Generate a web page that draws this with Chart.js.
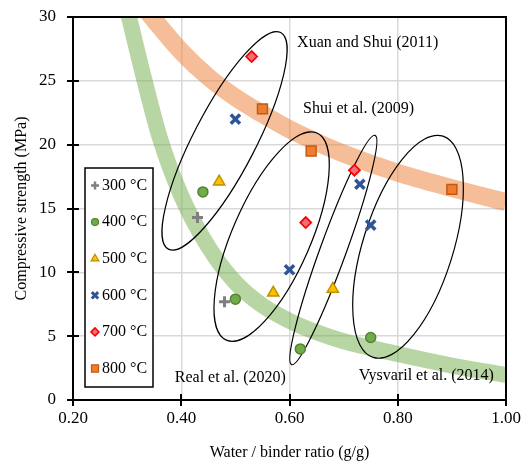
<!DOCTYPE html>
<html>
<head>
<meta charset="utf-8">
<script src="https://cdn.jsdelivr.net/npm/chart.js@4.4.1/dist/chart.umd.min.js"></script>
<style>
  html, body { margin: 0; padding: 0; background: #fff; }
  #wrap { width: 523px; height: 463px; }
</style>
</head>
<body>
<div id="wrap"><canvas id="chart" width="523" height="463"></canvas></div>
<script>
// series: water/binder ratio (g/g) and compressive strength (MPa)
const ratio300 = [0.43, 0.48];
const strength300 = [14.3, 7.7];
const ratio400 = [0.44, 0.50, 0.62, 0.75];
const strength400 = [16.3, 7.9, 4.0, 4.9];
const ratio500 = [0.47, 0.57, 0.68];
const strength500 = [17.1, 8.4, 8.7];
const ratio600 = [0.50, 0.60, 0.73, 0.75];
const strength600 = [22.0, 10.2, 16.9, 13.7];
const ratio700 = [0.53, 0.63, 0.72];
const strength700 = [26.9, 13.9, 18.0];
const ratio800 = [0.55, 0.64, 0.90];
const strength800 = [22.8, 19.5, 16.5];

// trend bands (literature curves)
const orangeRatio = [0.33, 0.40, 0.45, 0.50, 0.55, 0.60, 0.65, 0.70, 0.80, 0.90, 1.00];
const orangeStrength = [30.8, 27.3, 25.3, 23.7, 22.4, 21.2, 20.2, 19.3, 17.8, 16.6, 15.5];
const greenRatio = [0.295, 0.33, 0.36, 0.40, 0.45, 0.50, 0.55, 0.60, 0.65, 0.70, 0.80, 0.90, 1.00];
const greenStrength = [31.5, 25.4, 20.6, 16.0, 12.0, 9.2, 7.4, 6.2, 5.3, 4.6, 3.6, 2.7, 1.95];

const xTicks = [0.2, 0.4, 0.6, 0.8, 1.0];
const yTicks = [0, 5, 10, 15, 20, 25, 30];

const serif = "'Liberation Serif', 'Times New Roman', serif";
Chart.defaults.font.family = serif;
Chart.defaults.color = '#000';

function pts(xs, ys) {
    return xs.map((x, i) => ({ x: x, y: ys[i] }));
}

// marker look for each temperature
const markers = [
    { label: '300 °C', xs: ratio300, ys: strength300, style: 'cross', r: 5.5, lr: 4, bw: 3, lbw: 2.5, fill: '#7f7f7f', line: '#7f7f7f' },
    { label: '400 °C', xs: ratio400, ys: strength400, style: 'circle', r: 5, lr: 3.5, bw: 1.5, lbw: 1.2, fill: '#70ad47', line: '#548235' },
    { label: '500 °C', xs: ratio500, ys: strength500, style: 'triangle', r: 6.5, lr: 4.5, bw: 1.5, lbw: 1.2, fill: '#ffc000', line: '#bf9000' },
    { label: '600 °C', xs: ratio600, ys: strength600, style: 'crossRot', r: 6.5, lr: 4.5, bw: 3.5, lbw: 3, fill: '#2f5597', line: '#2f5597' },
    { label: '700 °C', xs: ratio700, ys: strength700, style: 'rectRot', r: 5.5, lr: 4, bw: 1.8, lbw: 1.5, fill: '#f0707a', line: '#ff0000' },
    { label: '800 °C', xs: ratio800, ys: strength800, style: 'rect', r: 7, lr: 5, bw: 1.5, lbw: 1.2, fill: '#ed7d31', line: '#c55a11' }
];

// ellipses: centre in data units, semi-axes in px, angle in degrees
const ellipses = [
    { cx: 0.480, cy: 20.3, rx: 122, ry: 31, angle: -62.6 },
    { cx: 0.567, cy: 12.8, rx: 113, ry: 39, angle: -66.4 },
    { cx: 0.681, cy: 11.75, rx: 122, ry: 13, angle: -70 },
    { cx: 0.819, cy: 12.0, rx: 116, ry: 45, angle: -72.5 }
];

const notes = [
    { text: 'Xuan and Shui (2011)', x: 0.614, y: 28.0 },
    { text: 'Shui et al. (2009)', x: 0.625, y: 22.8 },
    { text: 'Real et al. (2020)', x: 0.388, y: 1.75 },
    { text: 'Vysvaril et al. (2014)', x: 0.728, y: 1.9 }
];

const datasets = markers.map(m => ({
    label: m.label,
    data: pts(m.xs, m.ys),
    showLine: false,
    pointStyle: m.style,
    pointRadius: m.r,
    pointHoverRadius: m.r,
    pointBorderWidth: m.bw,
    pointBackgroundColor: m.fill,
    pointBorderColor: m.line,
    order: 1
}));

datasets.push({
    label: 'orange band',
    data: pts(orangeRatio, orangeStrength),
    showLine: true,
    borderColor: 'rgba(237,125,49,0.5)',
    borderWidth: 18,
    borderCapStyle: 'butt',
    borderJoinStyle: 'round',
    pointRadius: 0,
    cubicInterpolationMode: 'monotone',
    clip: 0,
    order: 5
});
datasets.push({
    label: 'green band',
    data: pts(greenRatio, greenStrength),
    showLine: true,
    borderColor: 'rgba(112,173,71,0.5)',
    borderWidth: 16,
    borderCapStyle: 'butt',
    borderJoinStyle: 'round',
    pointRadius: 0,
    cubicInterpolationMode: 'monotone',
    clip: 0,
    order: 6
});

// ellipses go on top of the bands, below the markers
const ellipsePlugin = {
    id: 'ellipses',
    afterDatasetDraw(chart, args) {
        if (chart.data.datasets[args.index].label !== 'orange band') return;
        const ctx = chart.ctx;
        const xs = chart.scales.x, ys = chart.scales.y;
        ctx.save();
        ctx.strokeStyle = '#000';
        ctx.lineWidth = 1.2;
        ellipses.forEach(e => {
            ctx.beginPath();
            ctx.ellipse(xs.getPixelForValue(e.cx), ys.getPixelForValue(e.cy), e.rx, e.ry, e.angle * Math.PI / 180, 0, Math.PI * 2);
            ctx.stroke();
        });
        ctx.restore();
    }
};

const framePlugin = {
    id: 'frame',
    afterDraw(chart) {
        const ctx = chart.ctx;
        const a = chart.chartArea;
        const xs = chart.scales.x, ys = chart.scales.y;
        ctx.save();
        ctx.strokeStyle = '#000';
        ctx.lineWidth = 2;
        ctx.strokeRect(a.left, a.top, a.right - a.left, a.bottom - a.top);
        // tick marks crossing the axes
        ctx.beginPath();
        yTicks.forEach(v => {
            const y = Math.round(ys.getPixelForValue(v));
            ctx.moveTo(a.left - 6, y);
            ctx.lineTo(a.left + 6, y);
        });
        xTicks.forEach(v => {
            const x = Math.round(xs.getPixelForValue(v));
            ctx.moveTo(x, a.bottom - 6);
            ctx.lineTo(x, a.bottom + 6);
        });
        ctx.stroke();

        // text notes
        ctx.fillStyle = '#000';
        ctx.font = '16px ' + serif;
        ctx.textBaseline = 'middle';
        ctx.textAlign = 'left';
        notes.forEach(n => {
            ctx.fillText(n.text, xs.getPixelForValue(n.x), ys.getPixelForValue(n.y));
        });

        // boxed legend
        const left = a.left + 12, top = a.top + 151, w = 68, h = 219;
        ctx.fillStyle = '#fff';
        ctx.fillRect(left, top, w, h);
        ctx.lineWidth = 1.5;
        ctx.strokeRect(left, top, w, h);
        markers.forEach((m, i) => {
            const y = top + 17.5 + i * 36.6;
            ctx.fillStyle = m.fill;
            ctx.strokeStyle = m.line;
            ctx.lineWidth = m.lbw;
            Chart.helpers.drawPoint(ctx, { pointStyle: m.style, radius: m.lr, rotation: 0, borderWidth: m.lbw }, left + 10, y);
            ctx.fillStyle = '#000';
            ctx.font = '16px ' + serif;
            ctx.textBaseline = 'middle';
            ctx.fillText(m.label, left + 17, y);
        });
        ctx.restore();
    }
};

const ctx = document.getElementById('chart').getContext('2d');
new Chart(ctx, {
    type: 'scatter',
    data: { datasets: datasets },
    options: {
        responsive: false,
        animation: false,
        events: [],
        layout: { autoPadding: false, padding: { left: 0, top: 17, right: 17, bottom: 0 } },
        scales: {
            x: {
                type: 'linear',
                min: 0.2,
                max: 1.0,
                afterBuildTicks: s => { s.ticks = xTicks.map(v => ({ value: v })); },
                ticks: { callback: v => Number(v).toFixed(2), font: { size: 17 }, padding: 8, maxRotation: 0 },
                grid: { color: '#d9d9d9', lineWidth: 1.5, drawTicks: false },
                border: { color: '#000', width: 2 },
                title: { display: true, text: 'Water / binder ratio (g/g)', font: { size: 16 }, padding: { top: 0, bottom: 1 } },
                afterFit: s => { s.height = 63; s.paddingLeft = 0; s.paddingRight = 0; }
            },
            y: {
                type: 'linear',
                min: 0,
                max: 30,
                afterBuildTicks: s => { s.ticks = yTicks.map(v => ({ value: v })); },
                ticks: { font: { size: 17 }, padding: 17 },
                grid: { color: '#d9d9d9', lineWidth: 1.5, drawTicks: false },
                border: { color: '#000', width: 2 },
                title: { display: true, text: 'Compressive strength (MPa)', font: { size: 16 }, padding: { top: 12, bottom: 0 } },
                afterFit: s => { s.width = 73; s.paddingTop = 0; s.paddingBottom = 0; }
            }
        },
        plugins: {
            legend: { display: false },
            tooltip: { enabled: false }
        }
    },
    plugins: [ellipsePlugin, framePlugin]
});
</script>
</body>
</html>
